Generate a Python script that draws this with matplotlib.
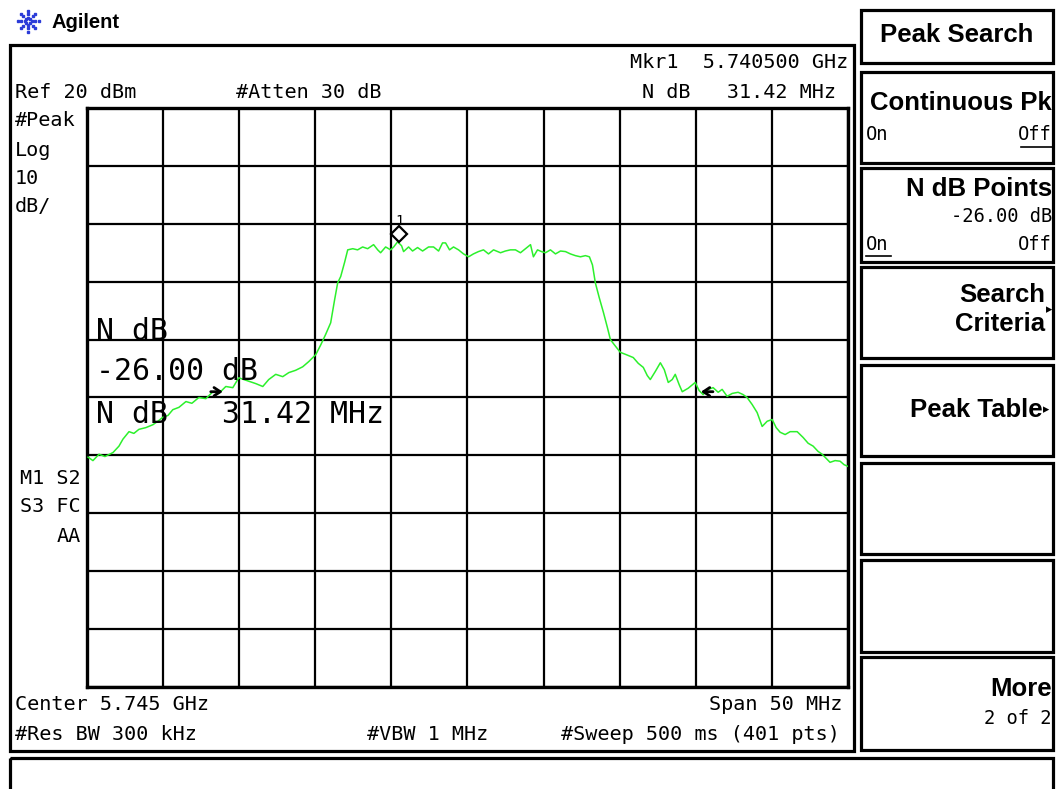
import numpy as np
import matplotlib
matplotlib.use("Agg")
import matplotlib.pyplot as plt
from matplotlib.patches import Rectangle
from matplotlib.transforms import offset_copy

# sweep setup
center_mhz = 5745.0
span_mhz = 50.0
ref_level = 20.0
db_per_div = 10.0

# trace: frequency (MHz) and level (dBm)
trace_freq = [
    5720.07, 5720.39, 5720.79, 5721.18, 5721.71, 5722.10, 5722.36, 5722.76, 5723.08, 5723.41,
    5723.87, 5724.33, 5724.66, 5724.99, 5725.32, 5725.64, 5726.04, 5726.50, 5726.89, 5727.35,
    5727.81, 5728.27, 5728.66, 5729.12, 5729.58, 5729.97, 5730.30, 5730.63, 5731.09, 5731.55,
    5731.94, 5732.40, 5732.86, 5733.26, 5733.71, 5734.17, 5734.57, 5735.03, 5735.36, 5735.68,
    5736.01, 5736.27, 5736.47, 5736.67, 5736.93, 5737.13, 5737.46, 5737.78, 5738.11, 5738.44,
    5738.83, 5739.10, 5739.29, 5739.62, 5739.95, 5740.15, 5740.41, 5740.67, 5740.80, 5741.13,
    5741.39, 5741.72, 5742.05, 5742.44, 5742.77, 5743.10, 5743.36, 5743.56, 5743.82, 5744.08,
    5744.41, 5744.74, 5745.07, 5745.39, 5745.72, 5746.05, 5746.38, 5746.71, 5747.17, 5747.49,
    5747.82, 5748.15, 5748.48, 5748.81, 5749.14, 5749.33, 5749.60, 5749.86, 5750.12, 5750.45,
    5750.78, 5751.11, 5751.44, 5751.76, 5752.09, 5752.42, 5752.75, 5753.01, 5753.21, 5753.40,
    5753.66, 5753.93, 5754.19, 5754.39, 5754.65, 5755.04, 5755.43, 5755.89, 5756.22, 5756.55,
    5756.81, 5757.01, 5757.34, 5757.67, 5757.93, 5758.19, 5758.45, 5758.65, 5758.91, 5759.11,
    5759.50, 5759.96, 5760.22, 5760.48, 5760.81, 5761.14, 5761.47, 5761.73, 5762.06, 5762.39,
    5762.78, 5763.11, 5763.37, 5763.70, 5764.03, 5764.36, 5764.69, 5765.02, 5765.28, 5765.54,
    5765.87, 5766.20, 5766.66, 5767.05, 5767.38, 5767.71, 5768.03, 5768.30, 5768.56, 5768.82,
    5769.15, 5769.48, 5769.74, 5770.00,
]
trace_level = [
    -40.3, -40.9, -39.8, -40.2, -39.5, -38.4, -37.2, -35.9, -36.2, -35.5,
    -35.2, -34.7, -34.1, -33.4, -33.1, -32.1, -31.7, -30.7, -31.0, -30.0,
    -30.2, -29.0, -29.3, -28.1, -28.3, -26.6, -26.9, -27.2, -27.6, -28.1,
    -26.9, -26.0, -26.4, -25.7, -25.3, -24.7, -23.8, -22.6, -20.9, -19.1,
    -17.1, -13.1, -10.2, -9.1, -6.6, -4.5, -4.3, -4.5, -4.0, -4.3,
    -3.6, -4.5, -5.0, -4.0, -4.5, -4.0, -3.1, -3.8, -4.8, -4.0,
    -4.7, -4.1, -4.7, -4.0, -4.0, -4.7, -3.3, -3.3, -4.5, -4.0,
    -4.5, -5.2, -5.7, -5.2, -4.8, -4.5, -5.2, -4.5, -5.0, -4.7,
    -4.5, -4.5, -5.0, -4.3, -3.6, -5.7, -4.5, -4.8, -5.0, -4.5,
    -5.2, -4.7, -4.8, -5.2, -5.5, -5.7, -5.5, -5.7, -7.1, -10.2,
    -12.8, -15.3, -17.9, -20.0, -20.9, -22.2, -22.6, -23.1, -24.1, -24.8,
    -26.2, -26.9, -25.5, -24.0, -25.2, -27.4, -26.9, -26.0, -27.8, -29.0,
    -28.4, -27.4, -28.8, -29.5, -28.6, -28.3, -29.1, -28.6, -29.8, -29.3,
    -29.1, -29.5, -30.0, -31.2, -32.6, -35.0, -34.1, -33.8, -35.2, -36.0,
    -36.4, -35.9, -35.9, -36.9, -37.9, -38.4, -39.3, -39.8, -40.5, -41.2,
    -40.9, -41.0, -41.6, -41.9,
]

# marker 1 and N dB points
marker_freq = 5740.5
marker_level = -3.0
ndb_offset = -26.0
ndb_left = 5728.92
ndb_width = 31.42

W, H = 1056, 789
MONO = "DejaVu Sans Mono"
BOLD = "Liberation Sans"

fig = plt.figure(figsize=(W / 100, H / 100), dpi=100)
fig.patch.set_facecolor("white")

# background layer in pixel units for frames and softkeys
bg = fig.add_axes([0, 0, 1, 1])
bg.set_xlim(0, W)
bg.set_ylim(H, 0)
bg.axis("off")


def box(x0, y0, x1, y1, lw=2.3):
    bg.add_patch(Rectangle((x0, y0), x1 - x0, y1 - y0, fill=False,
                           edgecolor="black", linewidth=lw))


def label(x, y, s, size=14.5, ha="left", family=MONO, weight="normal", **kw):
    fig.text(x / W, 1 - y / H, s, ha=ha, va="center", fontsize=size,
             family=family, weight=weight, **kw)


# instrument frame and message line
box(10, 45, 854, 751)
box(10, 758, 1053, 800)

# softkey column
key_tops = [10, 72, 168, 267, 365, 463, 560, 657]
key_bottoms = [63, 163, 262, 358, 456, 554, 652, 750]
for t, b in zip(key_tops, key_bottoms):
    box(861, t, 1053, b)

# logo
for ang in np.arange(0, 360, 45):
    r = np.array([3.5, 7.0, 10.5])
    bg.plot(28 + r * np.cos(np.radians(ang)), 21 + r * np.sin(np.radians(ang)),
            ls="none", marker="s", ms=1.6, color="#2b3bd8")
label(52, 22, "Agilent", size=14.5, family=BOLD, weight="bold")

# trace area
gl, gr, gt, gb = 87, 848, 108, 687
ax = fig.add_axes([gl / W, 1 - gb / H, (gr - gl) / W, (gb - gt) / H])
ax.set_xlim(center_mhz - span_mhz / 2, center_mhz + span_mhz / 2)
ax.set_ylim(ref_level - 10 * db_per_div, ref_level)
ax.set_xticks(np.arange(center_mhz - span_mhz / 2, center_mhz + span_mhz / 2 + 0.1, span_mhz / 10))
ax.set_yticks(np.arange(ref_level - 10 * db_per_div, ref_level + 0.1, db_per_div))
ax.tick_params(length=0, labelbottom=False, labelleft=False)
ax.grid(True, color="black", linewidth=1.6)
for sp in ax.spines.values():
    sp.set_linewidth(2.4)

ax.plot(trace_freq, trace_level, color="#2cf02c", linewidth=1.1, zorder=3)

# marker diamond sits just above the trace point
mk = offset_copy(ax.transData, fig=fig, x=0, y=7, units="dots")
ax.plot([marker_freq], [marker_level], transform=mk, marker="D", ms=8,
        mfc="white", mec="black", mew=1.6, zorder=4)
mk1 = offset_copy(ax.transData, fig=fig, x=0, y=20, units="dots")
ax.text(marker_freq, marker_level, "1", transform=mk1, ha="center", va="center",
        fontsize=10, family=MONO, zorder=4)

# N dB arrows
ndb_level = marker_level + ndb_offset
arrow = dict(arrowstyle="->,head_length=0.45,head_width=0.3", color="black",
             lw=2, shrinkA=0, shrinkB=0)
ax.annotate("", xy=(ndb_left, ndb_level), xytext=(-12, 0), textcoords="offset pixels",
            arrowprops=arrow, zorder=4)
ax.annotate("", xy=(ndb_left + ndb_width, ndb_level), xytext=(12, 0),
            textcoords="offset pixels", arrowprops=arrow, zorder=4)

# screen annotations
label(15, 92, "Ref 20 dBm")
label(236, 92, "#Atten 30 dB")
label(848, 63, "Mkr1  5.740500 GHz", ha="right")
label(836, 92, "N dB   31.42 MHz", ha="right")
for y, s in zip([121, 150, 179, 207], ["#Peak", "Log", "10", "dB/"]):
    label(15, y, s)
label(81, 478, "M1 S2", ha="right")
label(81, 507, "S3 FC", ha="right")
label(81, 537, "AA", ha="right")
label(15, 705, "Center 5.745 GHz")
label(842, 705, "Span 50 MHz", ha="right")
label(15, 735, "#Res BW 300 kHz")
label(367, 735, "#VBW 1 MHz")
label(840, 735, "#Sweep 500 ms (401 pts)", ha="right")

# large N dB readout
label(96, 331, "N dB", size=21.5)
label(96, 372, f"{ndb_offset:.2f} dB", size=21.5)
label(96, 414, f"N dB   {ndb_width:.2f} MHz", size=21.5)

# softkey labels
label(957, 35, "Peak Search", ha="center", family=BOLD, weight="bold", size=18.5)
label(1052, 103, "Continuous Pk", ha="right", family=BOLD, weight="bold", size=18.5)
label(866, 135, "On", size=13.5)
label(1052, 135, "Off", ha="right", size=13.5)
bg.plot([1021, 1052], [147, 147], color="black", lw=1.2)
label(1052, 189, "N dB Points", ha="right", family=BOLD, weight="bold", size=18.5)
label(1052, 216, f"{ndb_offset:.2f} dB", ha="right", size=13.5)
label(866, 244, "On", size=13.5)
label(1052, 244, "Off", ha="right", size=13.5)
bg.plot([866, 891], [256, 256], color="black", lw=1.2)
label(1045, 295, "Search", ha="right", family=BOLD, weight="bold", size=18.5)
label(1045, 324, "Criteria", ha="right", family=BOLD, weight="bold", size=18.5)
label(1046, 310, "\u25b8", size=9, family="DejaVu Sans")
label(1043, 410, "Peak Table", ha="right", family=BOLD, weight="bold", size=18.5)
label(1043, 410, "\u25b8", size=9, family="DejaVu Sans")
label(1052, 689, "More", ha="right", family=BOLD, weight="bold", size=18.5)
label(1052, 719, "2 of 2", ha="right", size=13.5)

fig.savefig("out.png", dpi=100, facecolor="white")
